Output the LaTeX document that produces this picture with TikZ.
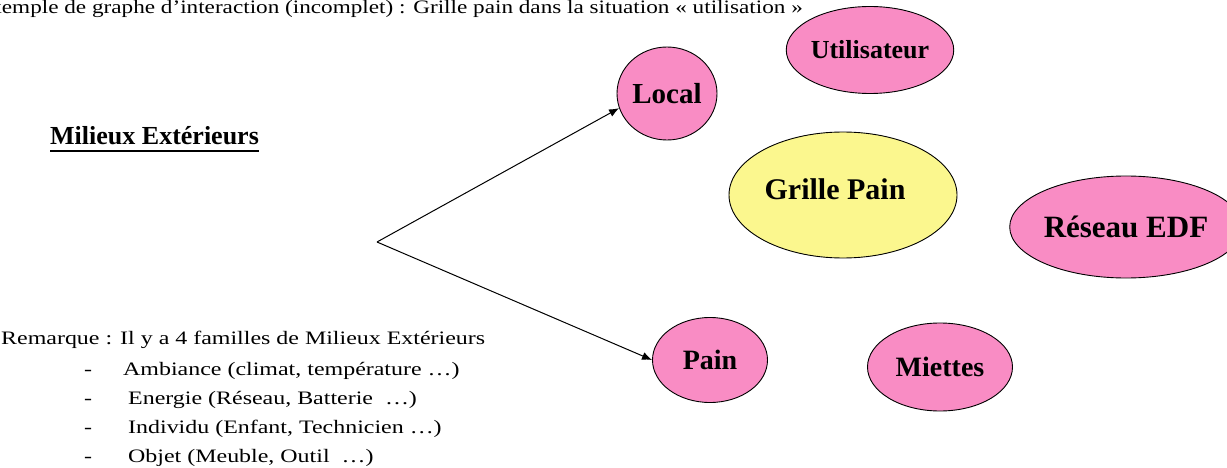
\documentclass[tikz,border=0pt]{standalone}
\usepackage{fontspec}
\usepackage{graphicx}
\setmainfont{Liberation Serif}
\usetikzlibrary{shapes.geometric,arrows.meta}
\definecolor{milieu}{HTML}{F98CC4}
\definecolor{produit}{HTML}{FBF78E}
% body text is set wide
\newcommand{\widetext}[1]{\scalebox{1.26}[1]{#1}}
\newcommand{\titletext}[1]{\scalebox{1.22}[1]{#1}}
\tikzset{
  me/.style={ellipse, draw=black, line width=0.9pt, fill=milieu, inner sep=0pt,
             font=\bfseries\fontsize{28}{30}\selectfont},
  prod/.style={me, fill=produit},
  txt/.style={anchor=base west, inner sep=0pt, font=\fontsize{19}{21}\selectfont},
  link/.style={-{Latex[length=10pt,width=8pt]}, line width=1pt}
}
\begin{document}
\begin{tikzpicture}[x=1pt,y=-1pt]
\useasboundingbox[fill=white] (0,0) rectangle (1227,468);

% title line
\node[txt] (title) at (-24,13.5) {\titletext{Exemple de graphe d'interaction (incomplet) : Grille pain dans la situation « utilisation »}};

% heading
\node[txt, font=\bfseries\fontsize{26}{30}\selectfont] (head) at (50,145) {Milieux Extérieurs};
\draw[line width=2pt] ([yshift=-6pt]head.base west) -- ([yshift=-6pt]head.base east);

% product and external media
\node[prod, minimum width=228pt, minimum height=126pt] (gp) at (843,195) {};
\node[font=\bfseries\fontsize{30}{32}\selectfont, inner sep=0pt] (gpt) at (835,189) {Grille Pain};
\node[me, minimum width=100pt, minimum height=93pt, font=\bfseries\fontsize{29}{30}\selectfont] (local) at (667,93.5) {Local};
\node[me, minimum width=136pt, minimum height=87pt, font=\bfseries\fontsize{26}{30}\selectfont] (user) at (870,50) {Utilisateur};
\node[me, minimum width=182pt, minimum height=102pt, font=\bfseries\fontsize{31}{32}\selectfont] (edf) at (1126,227) {Réseau EDF};
\node[me, minimum width=115pt, minimum height=85pt] (pain) at (710,360) {Pain};
\node[me, minimum width=145pt, minimum height=88pt] (miettes) at (940,367) {Miettes};

% interaction arrows
\coordinate (v) at (377,242);
\draw[link] (v) -- (local.197);
\draw[link] (v) -- (pain.west);

% remark and its list
\node[txt] (rem) at (1,344) {\widetext{Remarque : Il y a 4 familles de Milieux Extérieurs}};
\node[txt] (d1) at (84,375) {\widetext{-}};
\node[txt] (i1) at (123,375) {\widetext{Ambiance (climat, température \dots)}};
\node[txt] (d2) at (84,404) {\widetext{-}};
\node[txt] (i2) at (128,404) {\widetext{Energie (Réseau, Batterie \ \dots)}};
\node[txt] (d3) at (84,433) {\widetext{-}};
\node[txt] (i3) at (128,433) {\widetext{Individu (Enfant, Technicien \dots)}};
\node[txt] (d4) at (84,462) {\widetext{-}};
\node[txt] (i4) at (128,462) {\widetext{Objet (Meuble, Outil \ \dots)}};
\end{tikzpicture}
\end{document}
